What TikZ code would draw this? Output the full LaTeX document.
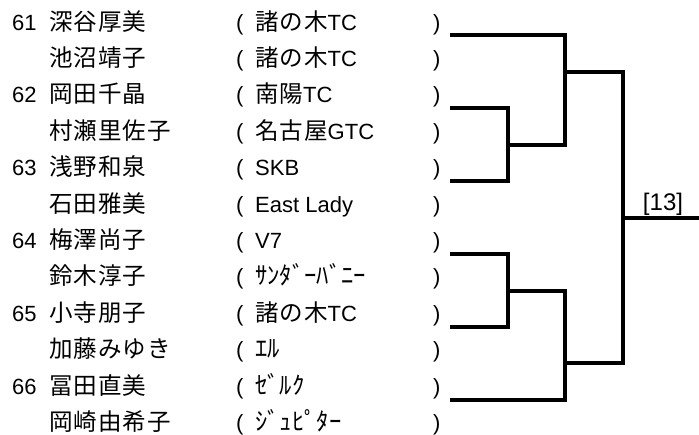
\documentclass[tikz,border=0pt]{standalone}
\usepackage{fontspec}
\setmainfont{Liberation Sans}
\newfontfamily\jpfont[Scale=1.07, LetterSpace=4]{Noto Sans CJK JP}
\newfontfamily\kanafont[Scale=1.12]{Noto Sans CJK JP}
\usetikzlibrary{positioning}

\begin{document}
\begin{tikzpicture}[x=1pt, y=-1pt,
  entry/.style={anchor=base west, inner sep=0pt, font=\fontsize{22}{22}\selectfont},
  bracket/.style={line width=3.2pt}]
  \useasboundingbox (0,0) rectangle (699,434);
  \foreach \num/\player/\club [count=\i] in {
    61/深谷厚美/{\jpfont 諸の木}TC,
    {}/池沼靖子/{\jpfont 諸の木}TC,
    62/岡田千晶/{\jpfont 南陽}TC,
    {}/村瀬里佐子/{\jpfont 名古屋}GTC,
    63/浅野和泉/SKB,
    {}/石田雅美/East Lady,
    64/梅澤尚子/V7,
    {}/鈴木淳子/{\kanafont ｻﾝﾀﾞｰﾊﾞﾆｰ},
    65/小寺朋子/{\jpfont 諸の木}TC,
    {}/加藤みゆき/{\kanafont ｴﾙ},
    66/冨田直美/{\kanafont ｾﾞﾙｸ},
    {}/岡崎由希子/{\kanafont ｼﾞｭﾋﾟﾀｰ}
  }{
    \pgfmathsetmacro{\yy}{30+36.4*(\i-1)}
    \node[entry] (num\i) at (12,\yy) {\num};
    \node[entry] (player\i) at (49,\yy) {\jpfont\player};
    \node[entry] (open\i) at (236,\yy) {(};
    \node[entry] (club\i) at (255,\yy) {\club};
    \node[entry] (close\i) at (433,\yy) {)};
  }

  \coordinate (team1) at (450,35);
  \coordinate (team2) at (450,108);
  \coordinate (team3) at (450,181);
  \coordinate (team4) at (450,254);
  \coordinate (team5) at (450,327);
  \coordinate (team6) at (450,400);
  \coordinate (win23) at (508,145);
  \coordinate (win45) at (508,291);
  \coordinate (semi1) at (565,72);
  \coordinate (semi2) at (565,363);
  \coordinate (final) at (623,218);
  \coordinate (out) at (699,218);

  \draw[bracket] (team2) -| (win23);
  \draw[bracket] (team3) -| (win23);
  \draw[bracket] (team4) -| (win45);
  \draw[bracket] (team5) -| (win45);
  \draw[bracket] (team1) -| (semi1);
  \draw[bracket] (win23) -| (semi1);
  \draw[bracket] (win45) -| (semi2);
  \draw[bracket] (team6) -| (semi2);
  \draw[bracket] (semi1) -| (final);
  \draw[bracket] (semi2) -| (final);
  \draw[bracket] (final) -- (out);
  \node[anchor=base, inner sep=0pt, font=\fontsize{24}{24}\selectfont] (round) at (663,210) {[13]};
\end{tikzpicture}
\end{document}
